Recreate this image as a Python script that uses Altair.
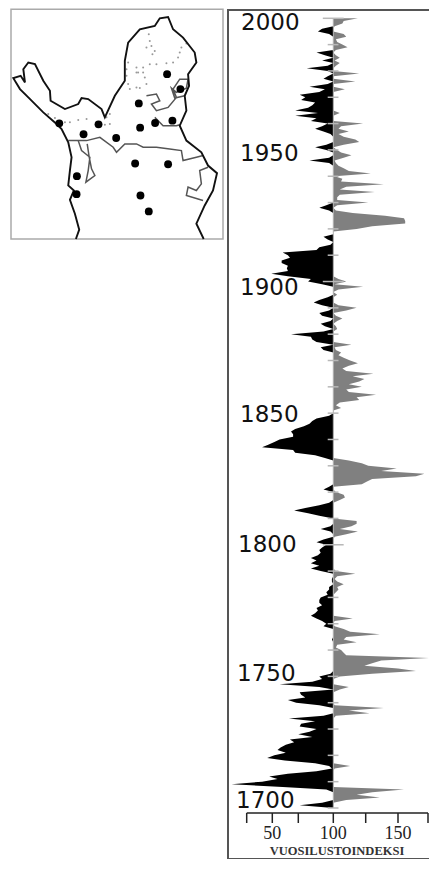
import altair as alt
import pandas as pd

# ---------- tree-ring index, one value per year from 2000 down to 1700 ----------
lower = [
 100,100,100,100,92,89,97,100,100,100,
 100,100,100,88,94,100,92,100,96,81,
 96,100,96,93,100,96,83,94,90,76,
 80,77,87,85,82,72,89,72,88,84,
 96,92,87,93,98,100,100,100,95,87,
 95,100,100,97,83,97,100,100,100,100,
 100,100,100,100,100,100,100,100,100,100,
 100,95,90,97,100,100,100,100,100,100,
 100,100,100,93,96,100,98,90,88,60,
 65,67,59,59,65,64,65,49,65,84,
 82,92,100,100,100,100,96,90,86,92,
 100,97,90,92,100,98,91,94,100,93,
 68,84,85,88,100,
 91,93,100,100,
 100,100,100,100,100,100,100,100,100,100,
 100,100,100,100,100,100,100,100,100,100,
 100,100,97,88,85,83,79,72,68,70,
 70,57,52,46,40,70,72,87,94,100,
 100,100,100,100,100,100,100,100,100,97,
 93,100,100,100,100,97,90,80,71,82,
 90,100,100,100,98,91,98,100,100,93,
 88,95,92,90,91,89,84,88,84,90,
 84,91,100,100,99,99,100,97,97,95,
 96,91,90,90,92,88,89,87,84,88,
 92,95,93,100,100,100,100,99,100,100,
 100,100,
 100,100,100,100,100,100,100,100,98,90,
 92,85,57,90,100,76,77,80,65,73,
 90,100,100,100,93,66,87,77,76,88,
 83,75,85,67,71,63,58,55,63,52,
 45,62,87,97,99,88,65,47,55,40,
 16,60,95,100,100,100,100,92,76,100,
]
upper = [
 119,108,107,101,100,100,108,110,102,103,
 107,111,102,100,102,105,101,105,102,100,
 100,120,100,100,117,100,100,109,100,100,
 100,100,100,100,100,100,105,100,100,100,
 123,106,104,112,104,108,117,120,108,100,
 103,106,114,108,101,102,104,108,112,129,
 101,107,106,139,110,105,132,105,103,103,
 127,103,100,102,115,140,155,156,156,130,
 118,100,100,100,100,100,100,100,100,100,
 100,100,100,100,100,100,100,100,100,104,
 110,101,123,104,100,103,100,100,100,104,
 118,110,100,102,107,103,100,102,103,100,
 100,100,100,100,114,
 101,102,106,104,
 108,113,119,112,107,110,131,115,124,120,
 112,122,110,112,133,118,120,105,102,106,
 100,100,100,100,100,100,100,100,100,100,
 100,100,100,100,100,100,100,100,100,112,
 122,127,149,137,172,165,130,126,122,100,
 100,102,108,109,105,100,100,100,100,100,
 100,100,118,118,114,105,119,110,101,100,
 100,100,100,100,100,100,100,100,100,100,
 100,102,117,103,101,103,108,103,104,102,
 100,100,100,100,100,100,100,100,100,115,
 101,100,101,108,113,136,110,108,118,103,
 102,106,
 108,110,176,137,130,124,150,165,130,105,
 100,100,100,112,105,100,100,100,100,100,
 101,139,112,128,102,100,100,100,100,100,
 100,100,100,100,100,100,100,100,100,100,
 100,100,100,113,101,100,100,100,100,100,
 100,100,155,130,118,136,110,100,100,100,
]
years = list(range(2000, 1699, -1))
minor_ticks = [1990,1980,1970,1960,1950,1940,1930,1920,1910,1890,1880,1870,1860,1850,1840,1830,1820,1810,1790,1780,1770,1760,1750,1740,1730,1720,1710,1700]
major_ticks = [2000,1900,1800]
year_labels = ["2000","1950","1900","1850","1800","1750","1700"]
x_ticks = [25,50,75,100,125,150,175]
x_tick_labels = ["50","100","150"]
x_title = "VUOSILUSTOINDEKSI"

# ---------- map, in the map's own grid units ----------
west_x = [228,238,225,210,222,205,210,215,205,185,170,130,85,60,40,62,75,70,85,105,130,150,152,195,235,245,265,305,315,345,375,375,385,420,465,480,505,520,550,585,590,565,568,555,560,540,560,605,625,652,640,615,590,612]
west_y = [716,688,640,598,570,555,510,470,425,385,370,335,290,265,232,225,245,205,185,190,240,270,300,325,310,292,295,325,350,285,240,180,125,85,75,52,48,85,110,155,185,220,255,285,330,375,420,455,495,518,570,615,670,716]
prov1_x = [205,235,260,300,340,350,375,410,430,470,510,545,550,590,610]
prov1_y = [420,420,420,410,440,455,430,430,440,440,445,450,480,470,465]
prov2_x = [235,245,270,265,258,285,275,268,262]
prov2_y = [420,450,470,510,545,525,505,470,430]
prov3_x = [625,600,605,590,565,560,610]
prov3_y = [500,510,550,570,560,585,600]
lake1_x = [440,470,480,455,470,505,530,520,540,565,560,530,515,525,555]
lake1_y = [285,280,300,310,330,320,290,265,235,235,262,275,262,292,285]
lake2_x = [465,490,530,540]
lake2_y = [350,375,375,372]
dots_x = [447,450,440,455,465,458,560,545,540,535,520,500,470,450,430,410,385,380,380,385,390,410,420,440,435,415,430,145,165,195,210,235,260,320,330,330,315,410]
dots_y = [100,120,140,135,150,160,128,140,155,170,185,187,190,190,200,200,185,205,225,250,265,260,262,250,230,215,215,340,352,365,365,358,355,350,340,370,372,215]
site_x = [502,542,417,518,466,421,178,296,251,349,406,505,231,230,422,447]
site_y = [220,265,308,360,367,381,368,371,401,412,489,491,527,581,585,633]

# ---------- styling ----------
SERIF = "Liberation Serif"
W, H = 421, 851
PANEL_X = 219
LABEL_NUDGE = {"2000": (14, 5), "1950": (13, 4), "1900": (13, 6), "1850": (13, 2), "1800": (11, 0), "1750": (10, -2), "1700": (9, -7)}
AXIS_Y = 804  # pixel row of the index axis

assert len(lower) == len(upper) == len(years)

ring = pd.DataFrame({"year": years, "lower": lower, "upper": upper, "base": 100})
x_scale = alt.Scale(domain=[21,25,50,75,100,125,150,175], range=[PANEL_X + v for v in [13,19.7,45.3,71.3,106.3,138.7,171,201]])
y_scale = alt.Scale(domain=[2000,1700], range=[9.3,799], nice=False, zero=False)
X = lambda f: alt.X(f, scale=x_scale, axis=None)
Y = lambda f: alt.Y(f, scale=y_scale, axis=None)

black = alt.Chart(ring).mark_area(orient="horizontal", color="#000000").encode(x=X("lower:Q"), x2="base:Q", y=Y("year:Q"))
grey = alt.Chart(ring).mark_area(orient="horizontal", color="#808080").encode(x=X("upper:Q"), x2="base:Q", y=Y("year:Q"))
base_df = pd.DataFrame({"i": [100], "a": [2000], "b": [1700]})
baseline = alt.Chart(base_df).mark_rule(color="#b0b0b0", strokeWidth=1).encode(x=X("i:Q"), y=Y("a:Q"), y2="b:Q")

tick_df = pd.DataFrame(
    [{"year": y, "l": 96, "r": 104} for y in minor_ticks] + [{"year": y, "l": 92.5, "r": 108} for y in major_ticks])
ticks = alt.Chart(tick_df).mark_rule(color="#b8b8b8", strokeWidth=1.5).encode(x=X("l:Q"), x2="r:Q", y=Y("year:Q"))

labels = []
for lab in year_labels:
    dx, dy = LABEL_NUDGE[lab]
    labels.append(
        alt.Chart(pd.DataFrame({"year": [int(lab)], "t": [lab]})).mark_text(
            align="left", baseline="middle", font="DejaVu Sans", fontSize=23, color="#111", dx=dx, dy=dy
        ).encode(x=alt.value(PANEL_X), y=Y("year:Q"), text="t:N")
    )

axis_line = alt.Chart(pd.DataFrame({"a": [x_ticks[0]], "b": [x_ticks[-1]]})).mark_rule(color="#222", strokeWidth=1.5).encode(
    x=X("a:Q"), x2="b:Q", y=alt.value(AXIS_Y))
axis_ticks = alt.Chart(pd.DataFrame({"v": x_ticks})).mark_rule(color="#222", strokeWidth=1.5).encode(
    x=X("v:Q"), y=alt.value(AXIS_Y), y2=alt.value(AXIS_Y + 10))
axis_labels = alt.Chart(pd.DataFrame({"v": [int(s) for s in x_tick_labels], "t": x_tick_labels})).mark_text(
    font=SERIF, fontSize=18, color="#222", align="center", baseline="middle").encode(
    x=X("v:Q"), y=alt.value(AXIS_Y + 21), text="t:N")
axis_title = alt.Chart(pd.DataFrame({"t": [x_title]})).mark_text(
    font=SERIF, fontSize=12.5, fontWeight="bold", color="#333", align="center", baseline="middle").encode(
    x=alt.value(PANEL_X + 110), y=alt.value(AXIS_Y + 38), text="t:N")

frame_left = alt.Chart(base_df).mark_rule(color="#555", strokeWidth=2).encode(
    x=alt.value(PANEL_X + 1), y=alt.value(0), y2=alt.value(H - 1))
frame_top = alt.Chart(base_df).mark_rule(color="#555", strokeWidth=2).encode(
    y=alt.value(1), x=alt.value(PANEL_X), x2=alt.value(W))
frame_bottom = alt.Chart(base_df).mark_rule(color="#555", strokeWidth=2).encode(
    y=alt.value(H - 1), x=alt.value(PANEL_X), x2=alt.value(W))

# ---------- map panel ----------
mx = alt.Scale(domain=[33,670], range=[3,215], nice=False, zero=False)
my = alt.Scale(domain=[24,716], range=[0,230], nice=False, zero=False)
MX = lambda f: alt.X(f, scale=mx, axis=None)
MY = lambda f: alt.Y(f, scale=my, axis=None)

def line(xs, ys, color, w):
    df = pd.DataFrame({"x": xs, "y": ys, "o": range(len(xs))})
    return alt.Chart(df).mark_line(color=color, strokeWidth=w).encode(x=MX("x:Q"), y=MY("y:Q"), order="o:Q")

spots = alt.Chart(pd.DataFrame({"x": dots_x, "y": dots_y})).mark_circle(color="#999", size=4, opacity=1).encode(x=MX("x:Q"), y=MY("y:Q"))
sites = alt.Chart(pd.DataFrame({"x": site_x, "y": site_y})).mark_circle(color="#000", size=62, opacity=1).encode(x=MX("x:Q"), y=MY("y:Q"))
box = alt.Chart(pd.DataFrame({"a": [33], "b": [670], "c": [25], "d": [716]})).mark_rect(
    fill=None, stroke="#aaa", strokeWidth=1.5).encode(x=MX("a:Q"), x2="b:Q", y=MY("c:Q"), y2="d:Q")

chart = alt.layer(
    box, spots,
    line(prov1_x, prov1_y, "#555", 1.5),
    line(prov2_x, prov2_y, "#555", 1.5),
    line(prov3_x, prov3_y, "#555", 1.5),
    line(lake1_x, lake1_y, "#555", 1.5),
    line(lake2_x, lake2_y, "#555", 1.5),
    line(west_x, west_y, "#111", 1.9),
    sites,
    black, grey, baseline, ticks, *labels, axis_line, axis_ticks, axis_labels, axis_title,
    frame_left, frame_top, frame_bottom,
).resolve_scale(x="independent", y="independent").properties(
    width=W, height=H, padding=0,
    autosize=alt.AutoSizeParams(type="fit", contains="padding"),
).configure_view(stroke=None)

chart.save("out.html", embed_options={"renderer": "svg", "actions": False})
